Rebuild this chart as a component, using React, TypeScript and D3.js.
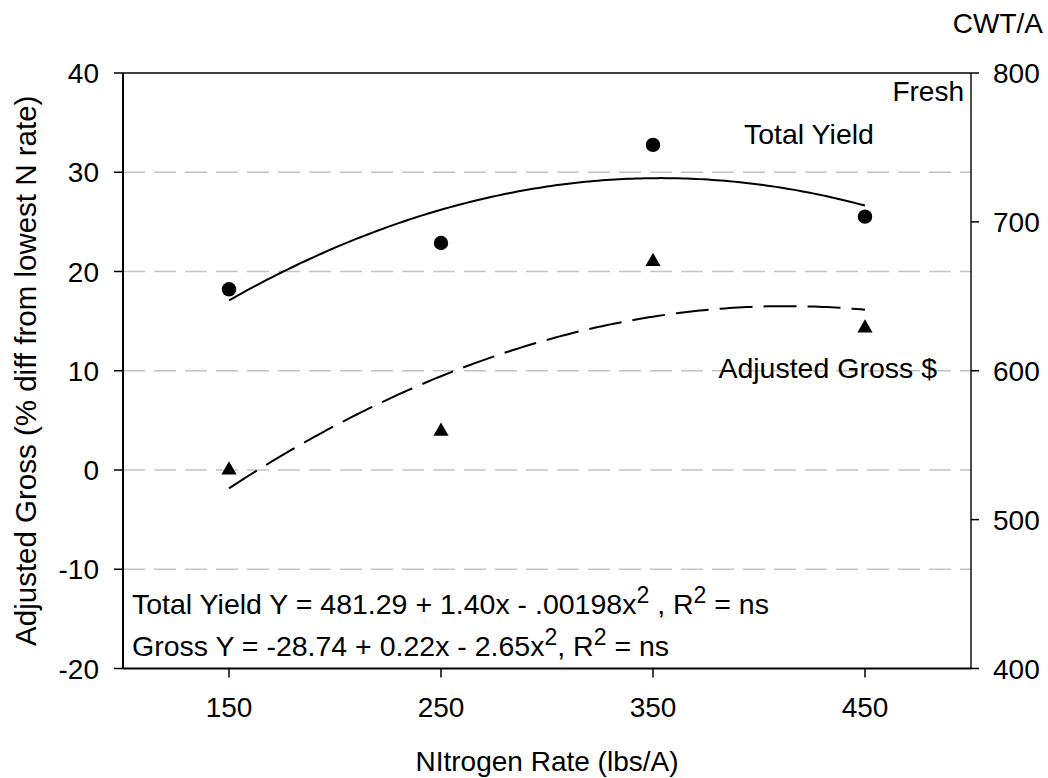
import React from "react";
import * as d3 from "d3";

// N rates (lbs/A)
const nRates = [150, 250, 350, 450];
// Total yield, fresh (CWT/A) - right axis, circles
const totalYield = [654.7, 685.8, 751.7, 703.5];
// Adjusted gross (% diff from lowest N rate) - left axis, triangles
const adjustedGross = [0, 3.9, 21.0, 14.3];

const xTicks = [150, 250, 350, 450];
const leftTicks = [-20, -10, 0, 10, 20, 30, 40];
const rightTicks = [400, 500, 600, 700, 800];
const gridValues = [-10, 0, 10, 20, 30];

const width = 1048;
const height = 778;
const plot = { left: 123, right: 971, top: 73, bottom: 668.5 };
const font = "'Liberation Sans', Arial, Helvetica, sans-serif";
const fs = 28;

// least squares quadratic fit: returns [a, b, c] for a + b x + c x^2
const quadFit = (xs: number[], ys: number[]) => {
  const n = xs.length;
  let s1 = 0, s2 = 0, s3 = 0, s4 = 0, t0 = 0, t1 = 0, t2 = 0;
  xs.forEach((x, i) => {
    const y = ys[i];
    s1 += x; s2 += x * x; s3 += x * x * x; s4 += x * x * x * x;
    t0 += y; t1 += x * y; t2 += x * x * y;
  });
  const m = [
    [n, s1, s2, t0],
    [s1, s2, s3, t1],
    [s2, s3, s4, t2],
  ];
  for (let i = 0; i < 3; i++) {
    for (let k = i + 1; k < 3; k++) {
      const f = m[k][i] / m[i][i];
      for (let j = i; j < 4; j++) m[k][j] -= f * m[i][j];
    }
  }
  const r = [0, 0, 0];
  for (let i = 2; i >= 0; i--) {
    let s = m[i][3];
    for (let j = i + 1; j < 3; j++) s -= m[i][j] * r[j];
    r[i] = s / m[i][i];
  }
  return r;
};

const App = () => {
  const x = d3.scaleLinear().domain([100, 500]).range([plot.left, plot.right]);
  const yL = d3.scaleLinear().domain([-20, 40]).range([plot.bottom, plot.top]);
  const yR = d3.scaleLinear().domain([400, 800]).range([plot.bottom, plot.top]);

  const fitY = quadFit(nRates, totalYield);
  const fitG = quadFit(nRates, adjustedGross);
  const xs = d3.range(nRates[0], nRates[nRates.length - 1] + 0.01, 2);

  const lineY = d3
    .line<number>()
    .x((d) => x(d))
    .y((d) => yR(fitY[0] + fitY[1] * d + fitY[2] * d * d));
  const lineG = d3
    .line<number>()
    .x((d) => x(d))
    .y((d) => yL(fitG[0] + fitG[1] * d + fitG[2] * d * d));

  const tri = d3.symbol().type(d3.symbolTriangle).size(100)();

  // superscript and return to baseline
  const sup = (t: string) => (
    <tspan fontSize={23} dy={-11}>
      {t}
    </tspan>
  );
  const back = (t: string) => <tspan dy={11}>{t}</tspan>;

  return (
    <svg
      width={width}
      height={height}
      style={{ position: "absolute", left: 0, top: 0, background: "#fff" }}
      fontFamily={font}
      fontSize={fs}
    >
      <rect width={width} height={height} fill="#fff" />

      {/* grid */}
      {gridValues.map((v) => (
        <line
          key={v}
          x1={plot.left}
          x2={plot.right}
          y1={yL(v)}
          y2={yL(v)}
          stroke="#c4c4c4"
          strokeWidth={1.3}
          strokeDasharray="22 9"
        />
      ))}

      {/* frame */}
      <line x1={plot.left} x2={plot.right} y1={plot.top} y2={plot.top} stroke="#000" strokeWidth={1.4} />
      <line x1={plot.right} x2={plot.right} y1={plot.top} y2={plot.bottom} stroke="#000" strokeWidth={1.4} />
      <line x1={plot.left} x2={plot.left} y1={plot.top} y2={plot.bottom} stroke="#000" strokeWidth={2} />
      <line x1={plot.left} x2={plot.right} y1={plot.bottom} y2={plot.bottom} stroke="#000" strokeWidth={2} />

      {/* left axis */}
      {leftTicks.map((v) => (
        <g key={v}>
          <line x1={plot.left - 9} x2={plot.left} y1={yL(v)} y2={yL(v)} stroke="#000" strokeWidth={1.5} />
          <text x={99} y={yL(v) + 10} textAnchor="end">
            {v}
          </text>
        </g>
      ))}

      {/* right axis */}
      {rightTicks.map((v) => (
        <g key={v}>
          <line x1={plot.right} x2={plot.right + 8} y1={yR(v)} y2={yR(v)} stroke="#000" strokeWidth={1.5} />
          <text x={993} y={yR(v) + 10}>
            {v}
          </text>
        </g>
      ))}

      {/* bottom axis */}
      {xTicks.map((v) => (
        <g key={v}>
          <line x1={x(v)} x2={x(v)} y1={plot.bottom} y2={plot.bottom + 9} stroke="#000" strokeWidth={1.5} />
          <text x={x(v)} y={717} textAnchor="middle">
            {v}
          </text>
        </g>
      ))}

      {/* fits */}
      <path d={lineY(xs) || ""} fill="none" stroke="#000" strokeWidth={2} />
      <path d={lineG(xs) || ""} fill="none" stroke="#000" strokeWidth={2} strokeDasharray="33 11" />

      {/* points */}
      {nRates.map((n, i) => (
        <circle key={"c" + n} cx={x(n)} cy={yR(totalYield[i])} r={7.2} fill="#000" />
      ))}
      {nRates.map((n, i) => (
        <path key={"t" + n} d={tri || ""} transform={`translate(${x(n)},${yL(adjustedGross[i])})`} fill="#000" />
      ))}

      {/* annotations */}
      <text x={744} y={144} fontSize={28.5}>
        Total Yield
      </text>
      <text x={937} y={378} textAnchor="end" fontSize={28.5}>
        Adjusted Gross $
      </text>
      <text x={964} y={101} textAnchor="end">
        Fresh
      </text>
      <text x={1043} y={33} textAnchor="end">
        CWT/A
      </text>

      <text x={132} y={614} fontSize={28.5}>
        Total Yield Y = 481.29 + 1.40x - .00198x{sup("2")}
        {back(" , R")}
        {sup("2")}
        {back(" = ns")}
      </text>
      <text x={132} y={656} fontSize={28.5}>
        Gross Y = -28.74 + 0.22x - 2.65x{sup("2")}
        {back(", R")}
        {sup("2")}
        {back(" = ns")}
      </text>

      {/* axis titles */}
      <text x={(plot.left + plot.right) / 2} y={771} textAnchor="middle">
        NItrogen Rate (lbs/A)
      </text>
      <text
        transform={`translate(36,${(plot.top + plot.bottom) / 2}) rotate(-90)`}
        textAnchor="middle"
        fontSize={29.5}
      >
        Adjusted Gross (% diff from lowest N rate)
      </text>
    </svg>
  );
};

export default App;
